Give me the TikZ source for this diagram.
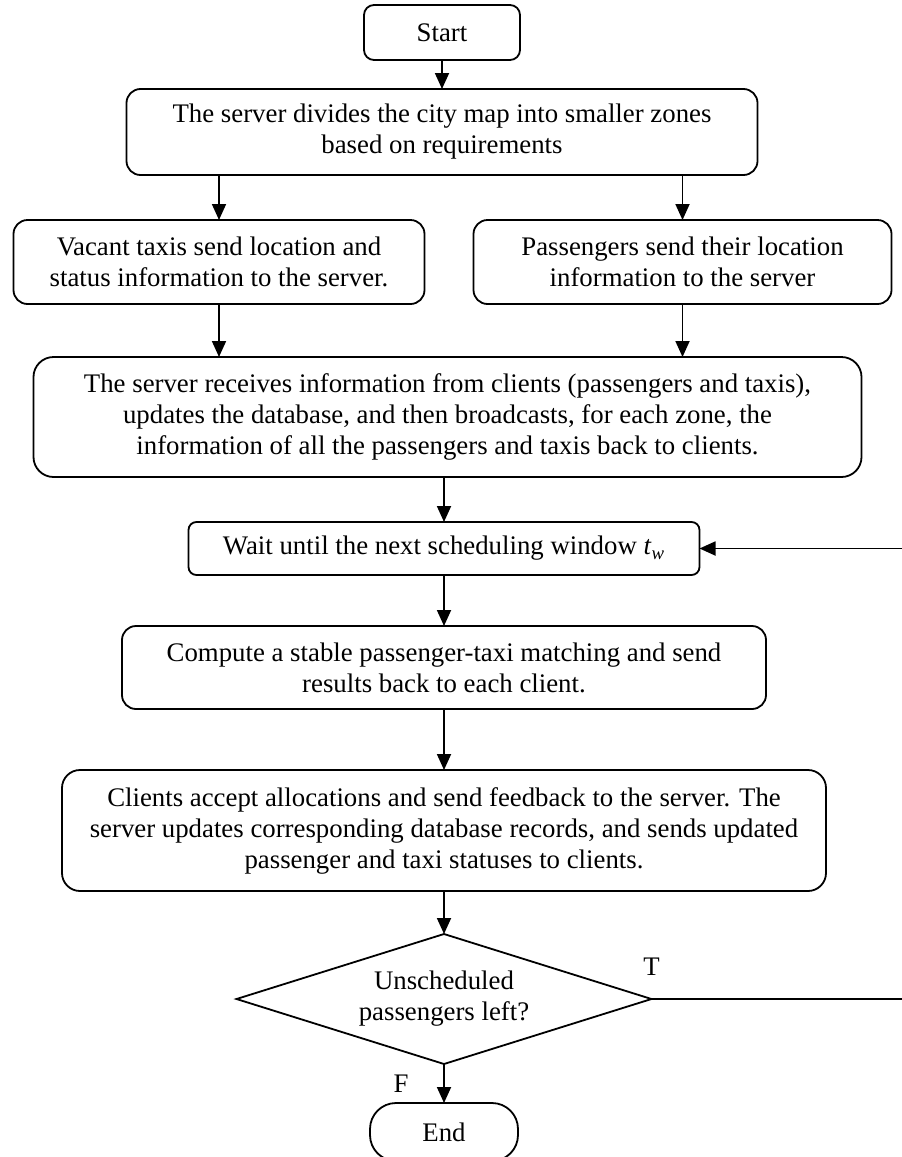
\documentclass[tikz,border=0pt]{standalone}
\usepackage{fontspec}
\setmainfont{Liberation Serif}
\usetikzlibrary{positioning,shapes.geometric,arrows.meta}

\begin{document}
\begin{tikzpicture}%
	[font=\fontsize{13.4}{15.5}\selectfont,
	>={Triangle[length=8pt,width=7pt]},
	line width=0.9pt,
	proc/.style ={rectangle, draw, rounded corners=7pt, align=center, inner sep=2pt, outer sep=0pt},
	term/.style ={proc, rounded corners=13pt},
	decision/.style = {diamond, draw, aspect=3.2, align=center, inner sep=0pt, outer sep=0pt,
		minimum width=207.5pt, minimum height=65pt}]
	\useasboundingbox (0,0) rectangle (450.5pt,-578.5pt);
	\node[proc,rounded corners=5pt,minimum width=78pt,minimum height=27.5pt] (start) at (221pt,-16.25pt) {Start};
	\node[proc,minimum width=315.5pt,minimum height=43pt] (divide) [below=14.5pt of start]
		{The server divides the city map into smaller zones\\ based on requirements};
	\node[proc,minimum width=205.5pt,minimum height=42pt] (taxis) [below=22.5pt of divide, xshift=-111.5pt]
		{Vacant taxis send location and\\ status information to the server.};
	\node[proc,minimum width=209pt,minimum height=42pt] (pass) [below=22.5pt of divide, xshift=120.25pt]
		{Passengers send their location\\ information to the server};
	\node[proc,rounded corners=10pt,minimum width=414pt,minimum height=60pt] (server) [below=91pt of divide, xshift=2.75pt]
		{The server receives information from clients (passengers and taxis),\\
		updates the database, and then broadcasts, for each zone, the\\
		information of all the passengers and taxis back to clients.};
	\node[proc,rounded corners=4pt,minimum width=255.5pt,minimum height=26.5pt] (wait) [below=22.5pt of server, xshift=-1.75pt]
		{Wait until the next scheduling window \textit{t}\textsubscript{\textit{w}}};
	\node[proc,minimum width=322pt,minimum height=41.5pt] (match) [below=25.5pt of wait]
		{Compute a stable passenger-taxi matching and send\\ results back to each client.};
	\node[proc,rounded corners=9pt,minimum width=382pt,minimum height=60.5pt] (accept) [below=30.5pt of match]
		{Clients accept allocations and send feedback to the server. The\\
		server updates corresponding database records, and sends updated\\
		passenger and taxi statuses to clients.};
	\node[decision] (left) [below=21.5pt of accept] {Unscheduled\\ passengers left?};
	\node[term,minimum width=74pt,minimum height=29pt] (end) [below=19.5pt of left] {End};
	
	\draw[->] (start) -- (divide);
	\draw[->] (divide.south -| taxis.north) -- (taxis);
	\draw[->] (divide.south -| pass.north) -- (pass);
	\draw[->] (taxis) -- (taxis.south |- server.north);
	\draw[->] (pass) -- (pass.south |- server.north);
	\draw[->] (server.south -| wait.north) -- (wait);
	\draw[->] (wait) -- (match);
	\draw[->] (match) -- (accept);
	\draw[->] (accept) -- (left);
	\draw[->] (left) -- node[left=14pt] {F} (end);
	\draw[->] (left.east) -- node[pos=0, above=8pt] {T} ++(128pt,0) |- (wait.east);
\end{tikzpicture}
\end{document}
